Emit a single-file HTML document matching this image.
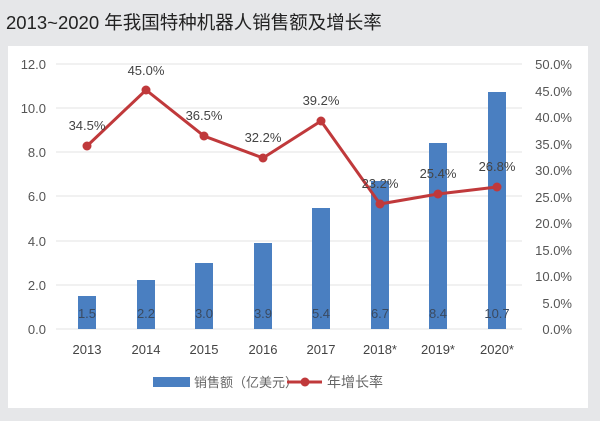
<!DOCTYPE html>
<html><head><meta charset="utf-8"><style>
body{margin:0;width:600px;height:416px;background:#e6e7e9;overflow:hidden}
</style></head><body>
<svg width="600" height="416" xmlns="http://www.w3.org/2000/svg" style="font-family:'Liberation Sans','Noto Sans CJK SC',sans-serif">
<text x="6" y="29" font-size="18.5" fill="#222" font-family="'Liberation Sans','Noto Sans CJK SC',sans-serif">2013~2020 年我国特种机器人销售额及增长率</text>
<rect x="8" y="46" width="580" height="362" fill="#fff"/>
<g stroke="#e3e3e3" stroke-width="1">
<line x1="56" x2="522" y1="64" y2="64"/><line x1="56" x2="522" y1="108" y2="108"/><line x1="56" x2="522" y1="152" y2="152"/><line x1="56" x2="522" y1="196" y2="196"/><line x1="56" x2="522" y1="241" y2="241"/><line x1="56" x2="522" y1="285" y2="285"/><line x1="56" x2="522" y1="329" y2="329"/>
</g>
<g font-size="13" fill="#555" text-anchor="end">
<text x="46" y="69">12.0</text><text x="46" y="113">10.0</text><text x="46" y="157">8.0</text><text x="46" y="201">6.0</text><text x="46" y="246">4.0</text><text x="46" y="290">2.0</text><text x="46" y="334">0.0</text>
</g>
<g font-size="13" fill="#555" text-anchor="end">
<text x="572" y="69">50.0%</text><text x="572" y="96">45.0%</text><text x="572" y="122">40.0%</text><text x="572" y="149">35.0%</text><text x="572" y="175">30.0%</text><text x="572" y="202">25.0%</text><text x="572" y="228">20.0%</text><text x="572" y="255">15.0%</text><text x="572" y="281">10.0%</text><text x="572" y="308">5.0%</text><text x="572" y="334">0.0%</text>
</g>
<g fill="#4a7fc1">
<rect x="78" y="296" width="18" height="33"/><rect x="137" y="280" width="18" height="49"/><rect x="195" y="263" width="18" height="66"/><rect x="254" y="243" width="18" height="86"/><rect x="312" y="208" width="18" height="121"/><rect x="371" y="181" width="18" height="148"/><rect x="429" y="143" width="18" height="186"/><rect x="488" y="92" width="18" height="237"/>
</g>
<g font-size="13" fill="#3a4a60" text-anchor="middle">
<text x="87" y="318">1.5</text><text x="146" y="318">2.2</text><text x="204" y="318">3.0</text><text x="263" y="318">3.9</text><text x="321" y="318">5.4</text><text x="380" y="318">6.7</text><text x="438" y="318">8.4</text><text x="497" y="318">10.7</text>
</g>
<polyline fill="none" stroke="#c0393b" stroke-width="3" points="87,146 146,90 204,136 263,158 321,121 380,204 438,194 497,187"/>
<g fill="#c0393b">
<circle cx="87" cy="146" r="4.5"/><circle cx="146" cy="90" r="4.5"/><circle cx="204" cy="136" r="4.5"/><circle cx="263" cy="158" r="4.5"/><circle cx="321" cy="121" r="4.5"/><circle cx="380" cy="204" r="4.5"/><circle cx="438" cy="194" r="4.5"/><circle cx="497" cy="187" r="4.5"/>
</g>
<g font-size="13" fill="#444" text-anchor="middle">
<text x="87" y="130">34.5%</text><text x="146" y="75">45.0%</text><text x="204" y="120">36.5%</text><text x="263" y="142">32.2%</text><text x="321" y="105">39.2%</text><text x="380" y="188">23.2%</text><text x="438" y="178">25.4%</text><text x="497" y="171">26.8%</text>
</g>
<g font-size="13" fill="#444" text-anchor="middle">
<text x="87" y="354">2013</text><text x="146" y="354">2014</text><text x="204" y="354">2015</text><text x="263" y="354">2016</text><text x="321" y="354">2017</text><text x="380" y="354">2018*</text><text x="438" y="354">2019*</text><text x="497" y="354">2020*</text>
</g>
<rect x="153" y="377" width="37" height="10" fill="#4a7fc1"/>
<text x="194" y="387" font-size="13" fill="#666">销售额（亿美元）</text>
<line x1="287" x2="322" y1="382" y2="382" stroke="#c0393b" stroke-width="3"/>
<circle cx="305" cy="382" r="4.5" fill="#c0393b"/>
<text x="327" y="387" font-size="14" fill="#666">年增长率</text>
</svg>
</body></html>
